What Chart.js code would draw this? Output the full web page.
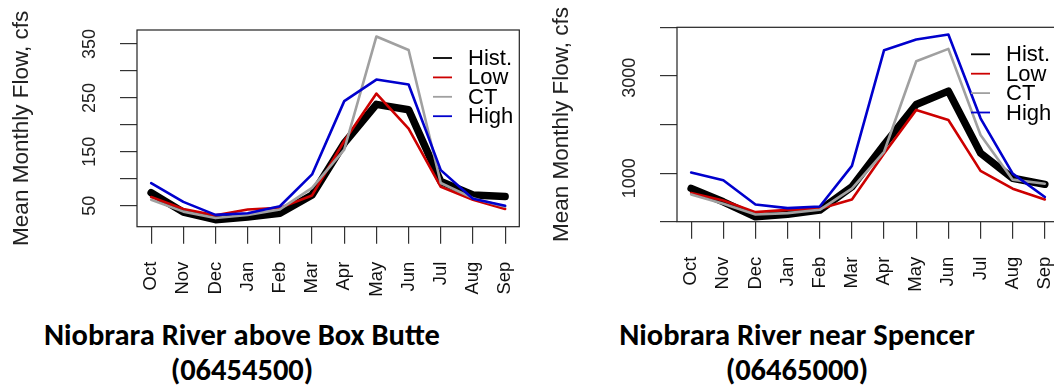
<!DOCTYPE html>
<html>
<head>
<meta charset="utf-8">
<script src="https://cdn.jsdelivr.net/npm/chart.js@4.4.0/dist/chart.umd.min.js"></script>
<style>
html, body { margin: 0; padding: 0; background: #fff; overflow: hidden; width: 1054px; height: 387px; }
#left { position: absolute; left: 0; top: 0; }
#right { position: absolute; left: 530px; top: 0; }
.ttl { position: absolute; top: 317px; width: 500px; text-align: center; font: 700 30.5px Carlito, Lato, sans-serif; line-height: 35px; color: #000; }
</style>
</head>
<body>
<canvas id="left" width="530" height="300"></canvas>
<canvas id="right" width="545" height="300"></canvas>
<div class="ttl" style="left:-8px">Niobrara River above Box Butte<br>(06454500)</div>
<div class="ttl" style="left:547px">Niobrara River near Spencer<br>(06465000)</div>
<script>
const months = ["Oct", "Nov", "Dec", "Jan", "Feb", "Mar", "Apr", "May", "Jun", "Jul", "Aug", "Sep"];
const seriesNames = ["Hist.", "Low", "CT", "High"];

// Niobrara River above Box Butte (cfs)
const bbHist = [74, 38, 24, 29, 36, 70, 166, 238, 228, 95, 70, 67];
const bbLow  = [66, 44, 32, 43, 46, 69, 170, 258, 193, 85, 61, 44];
const bbCT   = [61, 39, 27, 33, 43, 83, 154, 364, 339, 92, 64, 48];
const bbHigh = [92, 57, 33, 36, 49, 108, 244, 284, 275, 116, 63, 50];
const bbYLabels = [50, 150, 250, 350];

// Niobrara River near Spencer (cfs)
const spHist = [800, 533, 233, 287, 367, 833, 1667, 2467, 2733, 1500, 1000, 880];
const spLow  = [707, 560, 327, 373, 393, 580, 1493, 2360, 2160, 1147, 793, 580];
const spCT   = [680, 493, 280, 307, 373, 793, 1527, 3327, 3573, 1860, 973, 893];
const spHigh = [1113, 960, 480, 407, 440, 1247, 3547, 3760, 3860, 2193, 1093, 627];
const spYLabels = [1000, 3000];

const FONT = '"Liberation Sans", Arial, sans-serif';

// R-like box, rotated y labels, y title and legend
const rStyle = {
  id: 'rStyle',
  afterDatasetsDraw(chart, args, o) {
    const ctx = chart.ctx;
    const a = chart.chartArea;
    const y = chart.scales.y;
    ctx.save();
    ctx.strokeStyle = '#222';
    ctx.lineWidth = 1.2;
    ctx.strokeRect(a.left, a.top, a.right - a.left, a.bottom - a.top);

    ctx.fillStyle = '#222';
    ctx.textAlign = 'center';
    ctx.textBaseline = 'middle';
    ctx.font = '18px ' + FONT;
    o.yLabels.forEach(v => {
      ctx.save();
      ctx.translate(a.left - 47, y.getPixelForValue(v));
      ctx.rotate(-Math.PI / 2);
      ctx.fillText(String(v), 0, 0);
      ctx.restore();
    });

    ctx.font = '22.5px ' + FONT;
    ctx.save();
    ctx.translate(a.left - 115.5, (a.top + a.bottom) / 2);
    ctx.rotate(-Math.PI / 2);
    ctx.fillText('Mean Monthly Flow, cfs', 0, 0);
    ctx.restore();

    // legend
    ctx.font = '22px ' + FONT;
    ctx.textAlign = 'left';
    chart.data.datasets.forEach((ds, i) => {
      const ly = a.top + o.legendTop + i * o.legendStep;
      const lx = a.left + o.legendLeft;
      ctx.strokeStyle = ds.borderColor;
      ctx.lineWidth = 1.8;
      ctx.beginPath();
      ctx.moveTo(lx, ly);
      ctx.lineTo(lx + 19, ly);
      ctx.stroke();
      ctx.fillStyle = '#000';
      ctx.fillText(ds.label, lx + 35, ly + 1);
    });
    ctx.restore();
  }
};

function series(vals) {
  return months.map((m, i) => ({ x: i, y: vals[i] }));
}

function makeChart(id, hist, low, ct, high, yMin, yMax, yStep, yLabels, lay) {
  const colors = ['#000000', '#cd0000', '#a0a0a0', '#0000cd'];
  const widths = [7.5, 2.6, 2.6, 2.6];
  const vals = [hist, low, ct, high];
  const datasets = seriesNames.map((name, i) => ({
    label: name,
    data: series(vals[i]),
    borderColor: colors[i],
    borderWidth: widths[i],
    borderCapStyle: 'round',
    borderJoinStyle: 'round',
    pointRadius: 0,
    tension: 0,
    fill: false,
    order: 4 - i
  }));

  return new Chart(document.getElementById(id), {
    type: 'line',
    data: { datasets: datasets },
    plugins: [rStyle],
    options: {
      responsive: false,
      animation: false,
      devicePixelRatio: 1,
      layout: { padding: { left: 0, top: lay.top, right: lay.right, bottom: 0 } },
      plugins: {
        legend: { display: false },
        tooltip: { enabled: false },
        rStyle: { yLabels: yLabels, legendTop: lay.legendTop, legendStep: 19.4, legendLeft: lay.legendLeft }
      },
      scales: {
        x: {
          type: 'linear',
          min: -0.44,
          max: 11.44,
          afterFit: s => { s.height = 300 - lay.bottom; s.paddingLeft = 0; s.paddingRight = 0; },
          border: { display: false },
          grid: { drawOnChartArea: false, drawTicks: true, tickLength: 17, color: '#333', lineWidth: 1.2 },
          ticks: {
            stepSize: 1,
            includeBounds: false,
            autoSkip: false,
            minRotation: 90,
            maxRotation: 90,
            padding: 18,
            color: '#111',
            font: { family: FONT, size: 18.5 },
            callback: v => months[v] || ''
          }
        },
        y: {
          type: 'linear',
          min: yMin,
          max: yMax,
          afterFit: s => { s.width = lay.yw; s.paddingTop = 0; s.paddingBottom = 0; },
          border: { display: false },
          grid: { drawOnChartArea: false, drawTicks: true, tickLength: 17, color: '#333', lineWidth: 1.2 },
          ticks: { stepSize: yStep, includeBounds: false, display: false }
        }
      }
    }
  });
}

makeChart('left', bbHist, bbLow, bbCT, bbHigh, 11, 376, 50, bbYLabels,
  { top: 30, bottom: 226.7, right: 10.7, yw: 137, legendTop: 28, legendLeft: 296 });
makeChart('right', spHist, spLow, spCT, spHigh, 137, 4002, 1000, spYLabels,
  { top: 27.3, bottom: 221.7, right: 16, yw: 147, legendTop: 27, legendLeft: 294 });
</script>
</body>
</html>
